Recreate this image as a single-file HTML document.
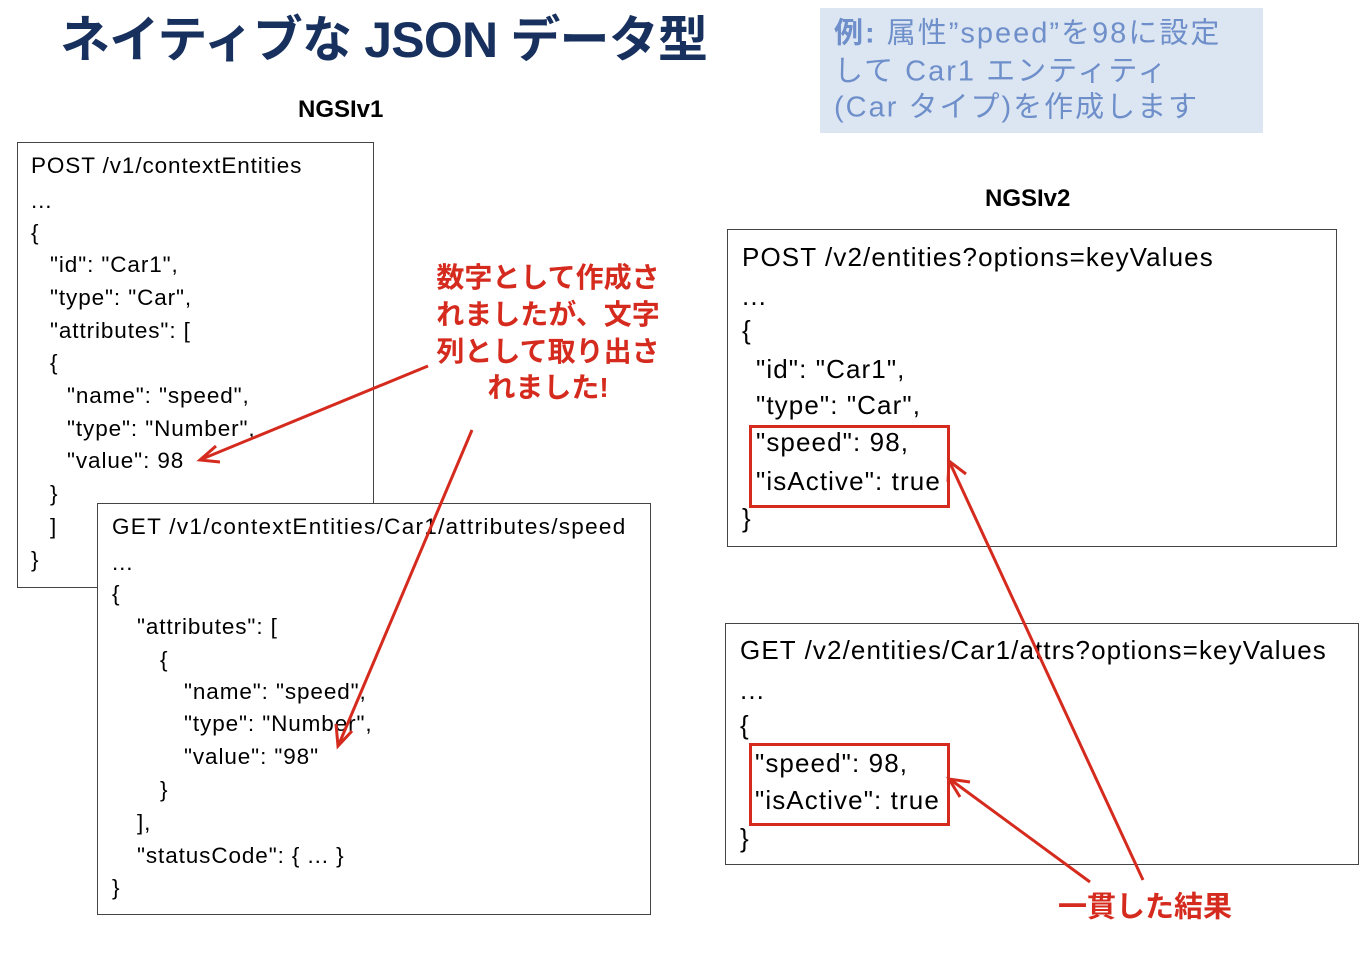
<!DOCTYPE html>
<html><head><meta charset="utf-8"><style>
body{margin:0;width:1366px;height:954px;background:#fff;position:relative;overflow:hidden;font-family:"Liberation Sans","Noto Sans CJK JP",sans-serif;}
.t{position:absolute;white-space:nowrap;transform:translateY(-50%);line-height:1;color:#000;}
.b{position:absolute;border:1.5px solid #444;background:#fff;}
.s{font-size:22.5px;letter-spacing:0.9px}
.m{font-size:26px;letter-spacing:1.1px}
.r{color:#d52b1e;font-size:28px;font-weight:bold;}
.rb{position:absolute;border:3px solid #d52b1e;}
.bl{font-size:29px;color:#6f8fca;letter-spacing:2px}
</style></head><body>
<div class="t" style="left:60px;top:40px;font-size:50px;font-weight:bold;color:#17305e;letter-spacing:-0.8px">ネイティブな JSON データ型</div>
<div style="position:absolute;left:820px;top:8px;width:443px;height:125px;background:#dce6f2"></div>
<div class="t bl" style="left:834px;top:34px"><b>例:</b> 属性”speed”を98に設定</div>
<div class="t bl" style="left:834px;top:72px">して Car1 エンティティ</div>
<div class="t bl" style="left:834px;top:108px">(Car タイプ)を作成します</div>
<div class="t" style="left:298px;top:110px;font-size:24px;font-weight:bold">NGSIv1</div>
<div class="t" style="left:985px;top:199px;font-size:24px;font-weight:bold">NGSIv2</div>

<div class="b" style="left:17px;top:142px;width:355px;height:444px"></div>
<div class="t s" style="left:31px;top:166px">POST /v1/contextEntities</div>
<div class="t s" style="left:31px;top:201px">...</div>
<div class="t s" style="left:31px;top:233px">{</div>
<div class="t s" style="left:50px;top:265px">"id": "Car1",</div>
<div class="t s" style="left:50px;top:298px">"type": "Car",</div>
<div class="t s" style="left:50px;top:331px">"attributes": [</div>
<div class="t s" style="left:50px;top:363px">{</div>
<div class="t s" style="left:67px;top:396px">"name": "speed",</div>
<div class="t s" style="left:67px;top:429px">"type": "Number",</div>
<div class="t s" style="left:67px;top:461px">"value": 98</div>
<div class="t s" style="left:50px;top:494px">}</div>
<div class="t s" style="left:50px;top:527px">]</div>
<div class="t s" style="left:31px;top:560px">}</div>

<div class="b" style="left:97px;top:503px;width:552px;height:410px"></div>
<div class="t s" style="left:112px;top:527px;letter-spacing:1.3px">GET /v1/contextEntities/Car1/attributes/speed</div>
<div class="t s" style="left:112px;top:563px">...</div>
<div class="t s" style="left:112px;top:594px">{</div>
<div class="t s" style="left:137px;top:627px">"attributes": [</div>
<div class="t s" style="left:160px;top:660px">{</div>
<div class="t s" style="left:184px;top:692px">"name": "speed",</div>
<div class="t s" style="left:184px;top:724px">"type": "Number",</div>
<div class="t s" style="left:184px;top:757px">"value": "98"</div>
<div class="t s" style="left:160px;top:790px">}</div>
<div class="t s" style="left:137px;top:823px">],</div>
<div class="t s" style="left:137px;top:856px">"statusCode": { ... }</div>
<div class="t s" style="left:112px;top:888px">}</div>

<div class="b" style="left:727px;top:229px;width:608px;height:316px"></div>
<div class="t m" style="left:742px;top:257px">POST /v2/entities?options=keyValues</div>
<div class="t m" style="left:742px;top:296px">...</div>
<div class="t m" style="left:742px;top:330px">{</div>
<div class="t m" style="left:756px;top:369px">"id": "Car1",</div>
<div class="t m" style="left:756px;top:405px">"type": "Car",</div>
<div class="t m" style="left:756px;top:442px">"speed": 98,</div>
<div class="t m" style="left:756px;top:481px">"isActive": true</div>
<div class="t m" style="left:742px;top:518px">}</div>
<div class="rb" style="left:749px;top:425px;width:195px;height:77px"></div>

<div class="b" style="left:725px;top:623px;width:632px;height:240px"></div>
<div class="t m" style="left:740px;top:650px">GET /v2/entities/Car1/attrs?options=keyValues</div>
<div class="t m" style="left:740px;top:690px">...</div>
<div class="t m" style="left:740px;top:725px">{</div>
<div class="t m" style="left:755px;top:763px">"speed": 98,</div>
<div class="t m" style="left:755px;top:800px">"isActive": true</div>
<div class="t m" style="left:740px;top:838px">}</div>
<div class="rb" style="left:749px;top:743px;width:195px;height:77px"></div>

<div class="t r" style="left:548px;top:278px;transform:translate(-50%,-50%)">数字として作成さ</div>
<div class="t r" style="left:548px;top:315px;transform:translate(-50%,-50%)">れましたが、文字</div>
<div class="t r" style="left:548px;top:352px;transform:translate(-50%,-50%)">列として取り出さ</div>
<div class="t r" style="left:548px;top:388px;transform:translate(-50%,-50%)">れました!</div>
<div class="t r" style="left:1145px;top:908px;transform:translate(-50%,-50%);font-size:29px">一貫した結果</div>

<svg width="1366" height="954" style="position:absolute;left:0;top:0" fill="none" stroke="#d52b1e" stroke-width="3">
<line x1="428" y1="366" x2="202" y2="459"/><polyline points="216,446 200,460 220,462"/>
<line x1="472" y1="430" x2="339" y2="744"/><polyline points="336,724 338,746 352,731"/>
<line x1="1143" y1="880" x2="950" y2="463"/><polyline points="948,482 949,461 966,474"/>
<line x1="1090" y1="882" x2="951" y2="780"/><polyline points="960,797 949,779 970,782"/>
</svg>
</body></html>
